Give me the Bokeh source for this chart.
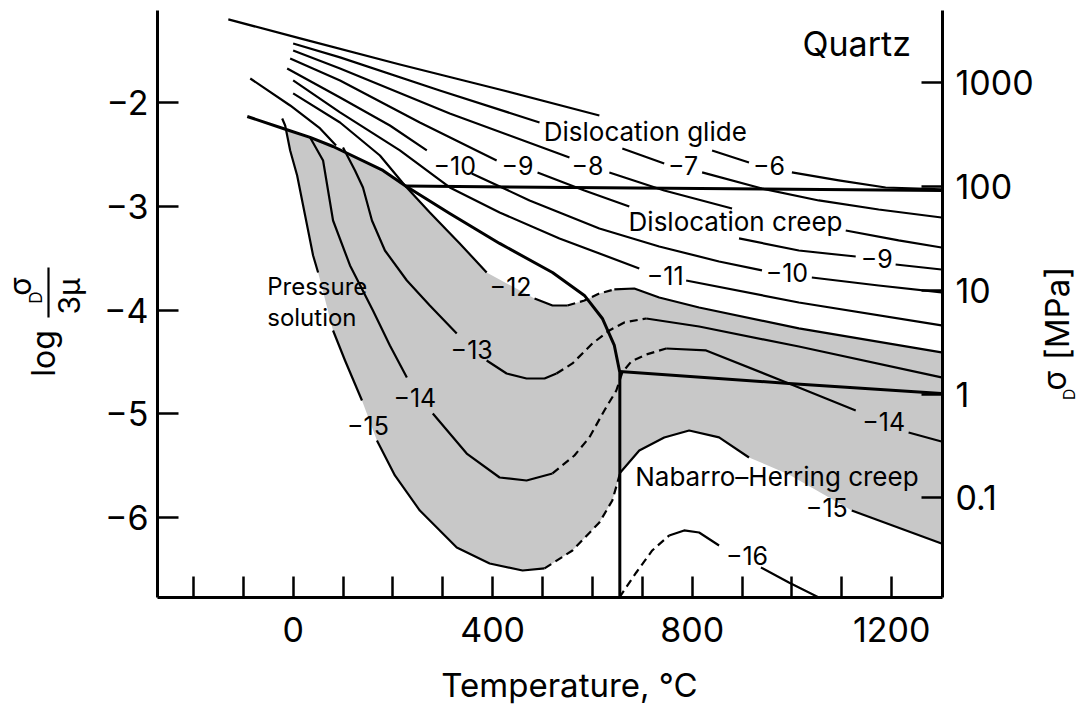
import math
import numpy as np
from bokeh.plotting import figure
from bokeh.layouts import row
from bokeh.models import Range1d, LinearAxis, FixedTicker, ColumnDataSource
from bokeh.core.properties import value
from bokeh.embed import file_html
from bokeh.resources import INLINE

nan = float("nan")
FONT = "Inter"

# ---------------- axes ----------------
temp_ticks = [0, 400, 800, 1200]
temp_minor_ticks = [-200, -100, 100, 200, 300, 500, 600, 700, 900, 1000, 1100]
log_ticks = [-2, -3, -4, -5, -6]
log_tick_labels = ["\u22122", "\u22123", "\u22124", "\u22125", "\u22126"]
mpa_ticks = [0.1, 1, 10, 100, 1000]
mpa_tick_labels = ["0.1", "1", "10", "100", "1000"]
log_3mu_mpa = 4.81          # log10(3*mu / MPa)
T_range = (-272, 1302)
v_range = (-6.769, -1.114)

# ------------- strain-rate contours: T (degC), log(sigma/3mu); nan = gap -------------
c6_T = [-130, 14, 214, 414, 614, nan, 840, 914, nan, 1000, 1094, 1188, 1300]
c6_v = [-1.20, -1.383, -1.634, -1.875, -2.125, nan, -2.462, -2.578, nan, -2.674, -2.751, -2.819, -2.838]

c7_T = [0, 94, 294, 494, nan, 660, 744, nan, 820, 940, 1054, 1174, 1300]
c7_v = [-1.432, -1.566, -1.884, -2.193, nan, -2.443, -2.588, nan, -2.674, -2.829, -2.944, -3.031, -3.108]

c8_T = [0, 94, 314, 554, nan, 634, 744, 880, nan, 1108, 1214, 1300]
c8_v = [-1.499, -1.672, -2.106, -2.530, nan, -2.674, -2.848, -3.021, nan, -3.233, -3.329, -3.397]

c9_T = [-6, 94, 254, 408, nan, 490, 584, 674, nan, 894, 1014, 1128, nan, 1208, 1300]
c9_v = [-1.576, -1.788, -2.193, -2.559, nan, -2.674, -2.848, -3.002, nan, -3.310, -3.426, -3.484, nan, -3.561, -3.609]

c10_T = [-12, 94, 194, 268, nan, 358, 474, 614, 734, 854, 940, nan, 1040, 1174, 1300]
c10_v = [-1.672, -1.952, -2.222, -2.462, nan, -2.684, -2.944, -3.214, -3.387, -3.532, -3.618, nan, -3.686, -3.763, -3.830]

c11_T = [0, 94, 214, 314, 414, 534, 694, nan, 788, 1014, 1300]
c11_v = [-1.788, -2.096, -2.462, -2.819, -3.060, -3.310, -3.599, nan, -3.715, -3.927, -4.148]

c12_T = [0, 94, 174, 224, 274, 334, 388, nan, 484, 520, 550, nan, 644, 684, 734, 814, 1014, 1300]
c12_v = [-1.913, -2.193, -2.511, -2.800, -3.060, -3.358, -3.638, nan, -3.888, -3.956, -3.956, nan,
         -3.801, -3.792, -3.879, -3.975, -4.177, -4.408]
c12_dash_T = [550, 584, 614, 644]
c12_dash_v = [-3.956, -3.908, -3.840, -3.801]

c13_T = [100, 124, 140, 158, 184, 228, 274, 328, nan, 388, 428, 468, 504, 528, nan, 708, 814, 1014, 1300]
c13_v = [-2.434, -2.655, -2.819, -3.137, -3.426, -3.715, -3.956, -4.225, nan, -4.486, -4.611, -4.659,
         -4.659, -4.611, nan, -4.081, -4.158, -4.351, -4.649]
c13_dash_T = [528, 560, 600, 634, 664, 708]
c13_dash_v = [-4.611, -4.514, -4.322, -4.197, -4.119, -4.081]

c14_T = [34, 60, 80, 114, 160, 194, 228, nan, 280, 348, 414, 468, 520, nan, 748, 828, 994, 1128, nan, 1234, 1300]
c14_v = [-2.337, -2.559, -3.137, -3.570, -4.004, -4.341, -4.649, nan, -4.996, -5.382, -5.613, -5.642,
         -5.574, nan, -4.370, -4.389, -4.707, -4.967, nan, -5.179, -5.266]
c14_dash_T = [520, 564, 594, 624, 648, 660, 678, 708, 748]
c14_dash_v = [-5.574, -5.401, -5.227, -4.967, -4.775, -4.601, -4.495, -4.428, -4.370]

c15_T = [-22, -16, -6, 8, 24, 40, 50, nan, 80, 104, 138, nan, 168, 204, 254, 328, 394, 460, 504]
c15_v = [-2.154, -2.222, -2.462, -2.703, -3.089, -3.474, -3.638, nan, -4.197, -4.486, -4.871, nan,
         -5.256, -5.593, -5.931, -6.287, -6.441, -6.509, -6.489]
c15_dash_T = [504, 560, 614, 640, 656]
c15_dash_v = [-6.489, -6.316, -6.046, -5.834, -5.564]
c15_nh_T = [656, 694, 744, 794, 854, 914, 994, 1064, 1120, 1300]
c15_nh_v = [-5.564, -5.353, -5.227, -5.160, -5.227, -5.420, -5.584, -5.776, -5.931, -6.249]

c16_dash_T = [654, 688, 720, 754]
c16_dash_v = [-6.769, -6.528, -6.316, -6.171]
c16_T = [754, 784, 814, 854, nan, 938, 994, 1058]
c16_v = [-6.171, -6.123, -6.143, -6.268, nan, -6.480, -6.624, -6.778]

# ------------- field boundaries -------------
b_ps_T = [-92, -14, 34, 80, 180, 224, 314, 414, 520, 584, 620, 644, 655, 655]
b_ps_v = [-2.135, -2.260, -2.337, -2.424, -2.655, -2.800, -3.069, -3.358, -3.638, -3.859, -4.081,
          -4.341, -4.601, -6.769]
b_glide_T = [224, 1300]
b_glide_v = [-2.805, -2.848]
b_nh_T = [655, 994, 1300]
b_nh_v = [-4.592, -4.707, -4.803]
b_low_T = [-86, -6, 54, 86]
b_low_v = [-1.769, -2.029, -2.250, -2.414]

# ------------- contour labels -------------
rate_labels = ["\u22126", "\u22127", "\u22128", "\u22129", "\u221210", "\u22129", "\u221210", "\u221211",
               "\u221212", "\u221213", "\u221214", "\u221215", "\u221214", "\u221215", "\u221216"]
rate_label_T = [954, 782, 590, 450, 324, 1170, 990, 746, 436, 358, 244, 150, 1184, 1070, 910]
rate_label_v = [-2.612, -2.607, -2.607, -2.607, -2.607, -3.503, -3.638, -3.667, -3.773, -4.380,
                -4.842, -5.112, -5.073, -5.902, -6.364]

# ---------------- main figure ----------------
p = figure(width=936, height=711, x_range=Range1d(*T_range), y_range=Range1d(*v_range),
           output_backend="svg", toolbar_location=None,
           min_border_left=57, min_border_right=92, min_border_top=10, min_border_bottom=114)
p.outline_line_color = None
p.grid.visible = False
p.background_fill_color = "white"
p.border_fill_color = "white"

def clean(T, v):
    return [(t, y) for t, y in zip(T, v) if not math.isnan(t)]

# gray band: strain rates between 1e-12 and 1e-15 1/s
top = [pt for pt in clean(b_ps_T, b_ps_v) if -16 <= pt[0] <= 224]
c12_all = sorted(set(clean(c12_T, c12_v) + clean(c12_dash_T, c12_dash_v)))
upper = [pt for pt in c12_all if pt[0] > 224]
nh = clean(c15_nh_T, c15_nh_v)
low_dash = clean(c15_dash_T, c15_dash_v)[:-1]
low = [pt for pt in clean(c15_T, c15_v) if pt[0] >= -16]
poly = top + upper + [(1300, nh[-1][1])] + nh[::-1] + low_dash[::-1] + low[::-1]
p.patch([q[0] for q in poly], [q[1] for q in poly], fill_color="#c8c8c8", line_color=None)

def draw(T, v, width=2.2, dash=False):
    p.line(np.array(T, dtype=float), np.array(v, dtype=float), line_color="black",
           line_width=width, line_dash="8 5" if dash else "solid", line_join="round")

for T, v in [(c6_T, c6_v), (c7_T, c7_v), (c8_T, c8_v), (c9_T, c9_v), (c10_T, c10_v),
             (c11_T, c11_v), (c12_T, c12_v), (c13_T, c13_v), (c14_T, c14_v), (c15_T, c15_v),
             (c16_T, c16_v), (c15_nh_T[:6], c15_nh_v[:6]), (c15_nh_T[8:], c15_nh_v[8:]),
             (b_low_T, b_low_v)]:
    draw(T, v)
for T, v in [(c12_dash_T, c12_dash_v), (c13_dash_T, c13_dash_v), (c14_dash_T, c14_dash_v),
             (c15_dash_T, c15_dash_v), (c16_dash_T, c16_dash_v)]:
    draw(T, v, dash=True)
for T, v in [(b_ps_T, b_ps_v), (b_glide_T, b_glide_v), (b_nh_T, b_nh_v)]:
    draw(T, v, width=3.0)

src = ColumnDataSource(dict(x=rate_label_T, y=rate_label_v, t=rate_labels))
p.text(x="x", y="y", text="t", source=src, text_font=value(FONT), text_font_size=value("25px"),
       text_align="center", text_baseline="middle", text_color="black")

def txt(fig, x, y, s, size="26px", align="center", angle=0.0):
    fig.text(x=[x], y=[y], text=[s], angle=angle, text_font=value(FONT), text_font_size=value(size),
             text_align=align, text_baseline="middle", text_color="black")

txt(p, 706, -2.279, "Dislocation glide")
txt(p, 887, -3.146, "Dislocation creep")
txt(p, 970, -5.603, "Nabarro\u2013Herring creep")
txt(p, -52, -3.773, "Pressure", size="24px", align="left")
txt(p, -52, -4.071, "solution", size="24px", align="left")
txt(p, 1130, -1.436, "Quartz", size="34px")

# ---------------- axes styling ----------------
def style(ax):
    ax.axis_line_width = 3
    ax.axis_line_color = "black"
    ax.major_tick_in = 21
    ax.major_tick_out = 0
    ax.major_tick_line_width = 2.5
    ax.major_label_text_font = FONT
    ax.major_label_text_font_size = "34px"
    ax.major_label_text_color = "black"

xa = p.xaxis[0]
xa.ticker = FixedTicker(ticks=temp_ticks, minor_ticks=temp_minor_ticks)
style(xa)
xa.minor_tick_in = 21
xa.minor_tick_out = 0
xa.minor_tick_line_width = 2.5
xa.minor_tick_line_color = "black"
xa.major_label_standoff = 19
# leading em + thin space shift the centred title slightly right, as in the original
xa.axis_label = "\u2003\u2009Temperature, \u00b0C"
xa.axis_label_text_font = FONT
xa.axis_label_text_font_size = "33px"
xa.axis_label_text_font_style = "normal"
xa.axis_label_text_color = "black"
xa.axis_label_standoff = 20

ya = p.yaxis[0]
ya.ticker = FixedTicker(ticks=log_ticks)
ya.major_label_overrides = dict(zip(log_ticks, log_tick_labels))
style(ya)
ya.minor_tick_line_color = None
ya.major_label_standoff = 9

mpa_pos = [math.log10(m) for m in mpa_ticks]
p.extra_y_ranges = {"mpa": Range1d(v_range[0] + log_3mu_mpa, v_range[1] + log_3mu_mpa)}
ra = LinearAxis(y_range_name="mpa", ticker=FixedTicker(ticks=mpa_pos))
ra.major_label_overrides = dict(zip(mpa_pos, mpa_tick_labels))
style(ra)
ra.minor_tick_line_color = None
ra.major_label_standoff = 13
p.add_layout(ra, "right")

# ---------------- side panels holding the vertical axis titles (page-pixel units) ----------------
# their frames are aligned with the main frame (page y 10..597), so y = 711 - page_y
def side(w):
    f = figure(width=w, height=711, x_range=Range1d(0, w), y_range=Range1d(114, 701),
               output_backend="svg", toolbar_location=None, x_axis_type=None, y_axis_type=None,
               min_border_left=0, min_border_right=0, min_border_top=10, min_border_bottom=114)
    f.outline_line_color = None
    f.grid.visible = False
    f.background_fill_color = "white"
    f.border_fill_color = "white"
    return f

R = math.pi / 2
left = side(100)
txt(left, 43, 358, "log", size="32px", angle=R)
txt(left, 19, 425, "\u03c3", size="30px", angle=R)
txt(left, 35, 414, "D", size="17px", angle=R)
left.segment(x0=[48], y0=[394], x1=[48], y1=[444], line_color="black", line_width=2.2)
txt(left, 68, 415, "3\u03bc", size="30px", angle=R)

right = side(44)
txt(right, 20, 398, "[MPa]", size="33px", angle=R)
txt(right, 18, 331, "\u03c3", size="32px", angle=R)
txt(right, 32, 317, "D", size="16px", angle=R)

layout = row(left, p, right, spacing=0)
open("out.html", "w").write(file_html(layout, INLINE))
